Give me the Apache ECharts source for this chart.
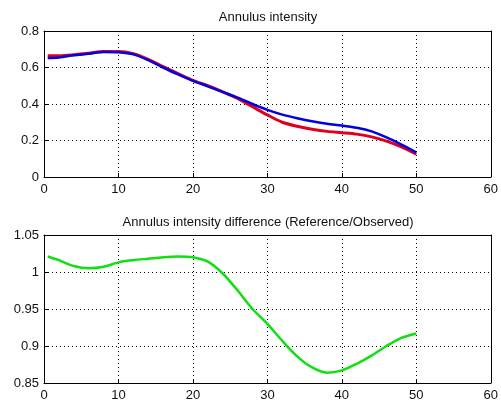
<!DOCTYPE html>
<html>
<head>
<meta charset="utf-8">
<script src="https://cdn.jsdelivr.net/npm/echarts@6/dist/echarts.min.js"></script>
<style>
  html, body { margin: 0; padding: 0; background: #fff; }
  #chart { width: 501px; height: 405px; }
</style>
</head>
<body>
<div id="chart"></div>
<script>
// Radial position of each annulus
const radius = [0.5, 2, 4, 6, 8, 10, 12, 14, 16, 18, 20, 22, 24, 26, 28, 30, 32, 34, 36, 38, 40, 42, 44, 46, 48, 50];
// Annulus intensity, reference profile (red)
const intensityRed = [0.665, 0.665, 0.670, 0.678, 0.688, 0.688, 0.676, 0.645, 0.605, 0.567, 0.530, 0.500, 0.467, 0.430, 0.385, 0.340, 0.300, 0.278, 0.262, 0.250, 0.243, 0.235, 0.220, 0.197, 0.165, 0.125];
// Annulus intensity, observed profile (blue)
const intensityBlue = [0.652, 0.655, 0.667, 0.675, 0.685, 0.683, 0.672, 0.640, 0.600, 0.562, 0.527, 0.497, 0.466, 0.435, 0.400, 0.368, 0.342, 0.322, 0.305, 0.292, 0.282, 0.270, 0.250, 0.217, 0.178, 0.135];
// Ratio reference / observed
const ratio = [1.021, 1.016, 1.008, 1.005, 1.007, 1.013, 1.016, 1.018, 1.020, 1.021, 1.020, 1.014, 0.998, 0.975, 0.950, 0.930, 0.907, 0.886, 0.871, 0.864, 0.867, 0.876, 0.887, 0.900, 0.911, 0.917];

const titles = ['Annulus intensity', 'Annulus intensity difference (Reference/Observed)'];

const pairs = (ys) => radius.map((x, i) => [x, ys[i]]);
const font = 'Liberation Sans, Arial, sans-serif';

const gridLine = { show: true, lineStyle: { color: '#000', type: [1, 3], width: 1 } };
const axisLine = { show: true, onZero: false, lineStyle: { color: '#000', width: 1 } };
const tick = { show: true, inside: true, length: 4, lineStyle: { color: '#000' } };
const lbl = { color: '#111', fontFamily: font, fontSize: 13 };

function xAxis(gi) {
  return {
    type: 'value', gridIndex: gi, min: 0, max: 60, interval: 10,
    axisLine, axisTick: tick, splitLine: gridLine,
    axisLabel: Object.assign({ margin: 6 }, lbl)
  };
}
function yAxis(gi, min, max, interval, fmt) {
  return {
    type: 'value', gridIndex: gi, min, max, interval,
    axisLine, axisTick: tick, splitLine: gridLine,
    axisLabel: Object.assign({ margin: 5, formatter: fmt }, lbl)
  };
}
// mirror axes close the plot box on the top and right
function boxX(gi) {
  return { type: 'value', gridIndex: gi, min: 0, max: 60, position: 'top',
    axisLine, axisTick: { show: false }, axisLabel: { show: false }, splitLine: { show: false } };
}
function boxY(gi, min, max) {
  return { type: 'value', gridIndex: gi, min, max, position: 'right',
    axisLine, axisTick: { show: false }, axisLabel: { show: false }, splitLine: { show: false } };
}

const titleStyle = { fontFamily: font, fontSize: 13, fontWeight: 'normal', color: '#111' };

const chart = echarts.init(document.getElementById('chart'), null, { renderer: 'canvas' });
chart.setOption({
  animation: false,
  backgroundColor: '#fff',
  title: [
    { text: titles[0], left: 263, top: 6, textAlign: 'center', textStyle: titleStyle },
    { text: titles[1], left: 263, top: 211, textAlign: 'center', textStyle: titleStyle }
  ],
  grid: [
    { left: 44, right: 7, top: 31, height: 146 },
    { left: 44, right: 7, top: 235, height: 148 }
  ],
  xAxis: [xAxis(0), xAxis(1), boxX(0), boxX(1)],
  yAxis: [
    yAxis(0, 0, 0.8, 0.2, v => (v === 0 ? '0' : v.toFixed(1))),
    yAxis(1, 0.85, 1.05, 0.05, v => (Math.abs(v - 1) < 1e-9 ? '1' : String(+v.toFixed(2)))),
    boxY(0, 0, 0.8), boxY(1, 0.85, 1.05)
  ],
  series: [
    { type: 'line', xAxisIndex: 0, yAxisIndex: 0, data: pairs(intensityRed), smooth: 0.3,
      showSymbol: false, lineStyle: { color: '#e0001c', width: 3 } },
    { type: 'line', xAxisIndex: 0, yAxisIndex: 0, data: pairs(intensityBlue), smooth: 0.3,
      showSymbol: false, lineStyle: { color: '#0000e0', width: 2.5 } },
    { type: 'line', xAxisIndex: 1, yAxisIndex: 1, data: pairs(ratio), smooth: 0.3,
      showSymbol: false, lineStyle: { color: '#10e010', width: 2.5 } }
  ]
});
</script>
</body>
</html>
